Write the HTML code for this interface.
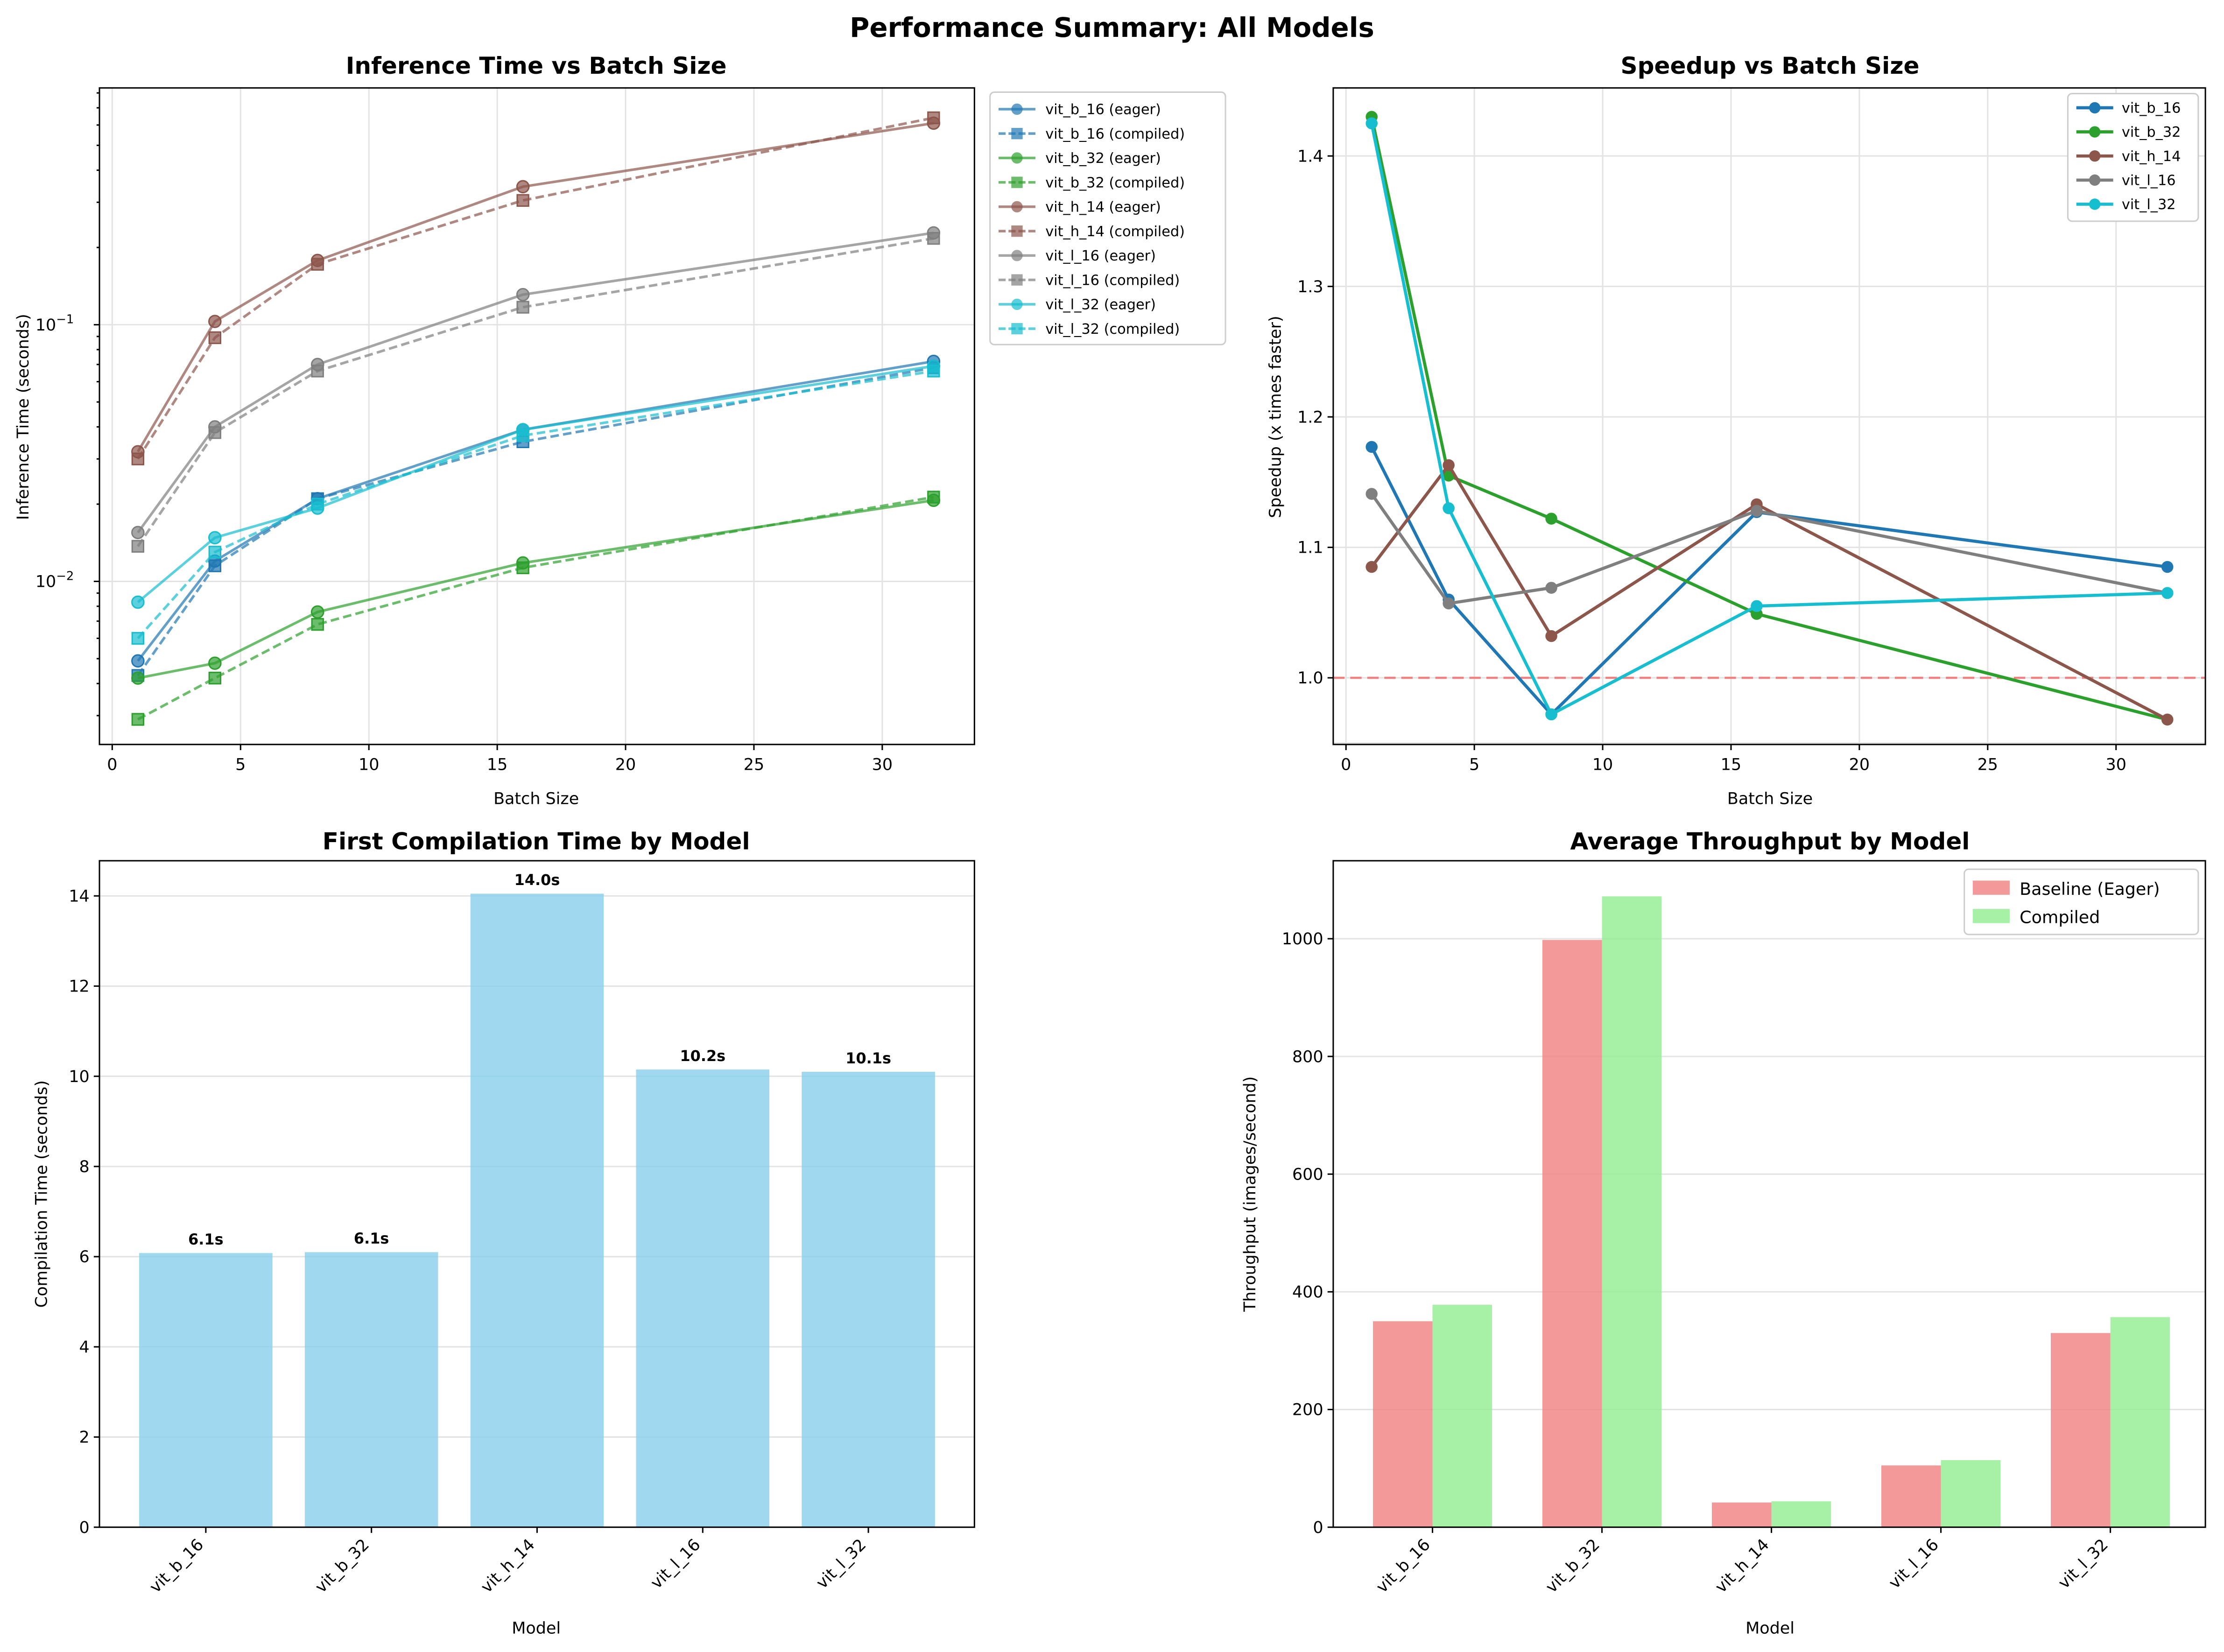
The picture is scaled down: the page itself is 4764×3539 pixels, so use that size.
<!DOCTYPE html>
<html><head><meta charset="utf-8"><style>
html,body{margin:0;padding:0;background:#fff}
svg{display:block}
text{font-family:"DejaVu Sans","Liberation Sans",sans-serif}
</style></head><body>
<svg id="fig" xmlns="http://www.w3.org/2000/svg" width="4764" height="3539" viewBox="0 0 1568 1165">
<rect width="1568" height="1165" fill="#fff"/>
<text x="784" y="26" text-anchor="middle" font-size="19" font-weight="bold">Performance Summary: All Models</text>
<g id="p1"></g>
<g id="p2"></g>
<g id="p3"></g>
<g id="p4"></g>
</svg>
<script>
const models=["vit_b_16","vit_b_32","vit_h_14","vit_l_16","vit_l_32"];
const colors=["#1f77b4","#2ca02c","#8c564b","#7f7f7f","#17becf"];
const batches=[1,4,8,16,32];
const eagerTime=[[0.0049,0.012,0.021,0.039,0.072],[0.0042,0.0048,0.0076,0.0118,0.0207],[0.032,0.103,0.178,0.345,0.61],[0.0155,0.040,0.070,0.131,0.228],[0.0083,0.0148,0.0193,0.039,0.069]];
const compiledTime=[[0.0043,0.0115,0.021,0.035,0.068],[0.0029,0.0042,0.0068,0.0113,0.0213],[0.030,0.089,0.172,0.305,0.64],[0.0137,0.038,0.066,0.117,0.217],[0.0060,0.013,0.020,0.037,0.066]];
const speedup=[[1.177,1.06,0.972,1.127,1.085],[1.43,1.155,1.122,1.049,0.968],[1.085,1.163,1.032,1.133,0.968],[1.141,1.057,1.069,1.128,1.065],[1.425,1.13,0.972,1.055,1.065]];
const compileTime=[6.08,6.1,14.05,10.15,10.1];
const compileLabels=["6.1s","6.1s","14.0s","10.2s","10.1s"];
const thrEager=[350,998,42,105,330];
const thrCompiled=[378,1072,44,114,357];
const xTicks=[0,5,10,15,20,25,30];
const speedTicks=[1.0,1.1,1.2,1.3,1.4];
const compTicks=[0,2,4,6,8,10,12,14];
const thrTicks=[0,200,400,600,800,1000];

const NS="http://www.w3.org/2000/svg";
const FS=11.5;
function el(parent,tag,attrs,txt){const e=document.createElementNS(NS,tag);for(const k in attrs)e.setAttribute(k,attrs[k]);if(txt!==undefined)e.textContent=txt;parent.appendChild(e);return e;}
function frame(g,L,T,R,B){const r=el(g,'rect',{x:L,y:T,width:R-L,height:B-T,fill:'none',stroke:'#000','stroke-width':1});}
function title(g,x,y,s){const t=el(g,'text',{x:x,y:y,'text-anchor':'middle','font-size':16.5,'font-weight':'bold'},s);}
function grid(g,x1,y1,x2,y2){el(g,'line',{x1,y1,x2,y2,stroke:'#e3e3e3','stroke-width':1});}

// Panel 1
(function(){
 const g=document.getElementById('p1');const L=70,T=62,R=687,B=525;
 const X=v=>79+v*18.1, Y=v=>410-181*(Math.log10(v)+2);
 xTicks.forEach(t=>grid(g,X(t),T,X(t),B));
 [0.01,0.1].forEach(t=>grid(g,L,Y(t),R,Y(t)));
 title(g,378,52,'Inference Time vs Batch Size');
 models.forEach((m,i)=>{
  [[eagerTime[i],false],[compiledTime[i],true]].forEach(([arr,dash])=>{
   const pts=batches.map((b,j)=>X(b)+','+Y(arr[j])).join(' ');
   const pl=el(g,'polyline',{points:pts,fill:'none',stroke:colors[i],'stroke-width':1.8,'stroke-opacity':0.7,'stroke-dasharray':dash?'6,3':'none'});
   
   
   batches.forEach((b,j)=>{
    const mk=dash?el(g,'rect',{x:X(b)-4,y:Y(arr[j])-4,width:8,height:8,fill:colors[i],'fill-opacity':0.7,stroke:colors[i]}):el(g,'circle',{cx:X(b),cy:Y(arr[j]),r:4.2,fill:colors[i],'fill-opacity':0.7,stroke:colors[i]});
    
    
   });
  });
 });
 frame(g,L,T,R,B);
 xTicks.forEach(t=>{el(g,'line',{x1:X(t),y1:B,x2:X(t),y2:B+4,stroke:'#000'});el(g,'text',{x:X(t),y:B+18,'text-anchor':'middle','font-size':FS},t);});
 [[0.01,'-2'],[0.1,'-1']].forEach(([t,e])=>{el(g,'line',{x1:L-4,y1:Y(t),x2:L,y2:Y(t),stroke:'#000'});const tx=el(g,'text',{x:L-18,y:Y(t)+4,'text-anchor':'end','font-size':FS},'10');el(tx,'tspan',{dy:-5,'font-size':8.5},'−'+e.slice(1));});
 for(let d=-3;d<=-1;d++)for(let k=2;k<=9;k++){const v=k*Math.pow(10,d);const y=Y(v);if(y>T&&y<B)el(g,'line',{x1:L-2,y1:y,x2:L,y2:y,stroke:'#000'});}
 el(g,'text',{x:378,y:567,'text-anchor':'middle','font-size':FS},'Batch Size');
 el(g,'text',{x:20,y:294,'text-anchor':'middle','font-size':FS,transform:'rotate(-90 20 294)'},'Inference Time (seconds)');
 const lg=el(g,'g',{});
 el(lg,'rect',{x:698,y:65,width:166,height:178,fill:'#fff',stroke:'#ccc',rx:3});
 let k=0;models.forEach((m,i)=>{['eager','compiled'].forEach(s=>{const y=77+k*17.2;
  el(lg,'line',{x1:704,y1:y,x2:730,y2:y,stroke:colors[i],'stroke-width':1.8,'stroke-opacity':0.7,'stroke-dasharray':s=='compiled'?'5,2':'none'});
  if(s=='eager')el(lg,'circle',{cx:717,cy:y,r:4,fill:colors[i],'fill-opacity':0.7});else el(lg,'rect',{x:713,y:y-4,width:8,height:8,fill:colors[i],'fill-opacity':0.7});
  const t=el(lg,'text',{x:737,y:y+3.5,'font-size':10},m+' ('+s+')');k++;});});
})();

// Panel 2
(function(){
 const g=document.getElementById('p2');const L=940,T=62,R=1555,B=525;
 const X=v=>949+v*18.1, Y=v=>478-(v-1)*920;
 xTicks.forEach(t=>grid(g,X(t),T,X(t),B));
 [0.95,1.0,1.1,1.2,1.3,1.4].forEach(t=>grid(g,L,Y(t),R,Y(t)));
 title(g,1248,52,'Speedup vs Batch Size');
 el(g,'line',{x1:L,y1:Y(1),x2:R,y2:Y(1),stroke:'#f08080','stroke-width':1.5,'stroke-dasharray':'8,4'});
 models.forEach((m,i)=>{
  const pl=el(g,'polyline',{points:batches.map((b,j)=>X(b)+','+Y(speedup[i][j])).join(' '),fill:'none',stroke:colors[i],'stroke-width':2.2});
  
  batches.forEach((b,j)=>{const c=el(g,'circle',{cx:X(b),cy:Y(speedup[i][j]),r:4.2,fill:colors[i]});});
 });
 frame(g,L,T,R,B);
 xTicks.forEach(t=>{el(g,'line',{x1:X(t),y1:B,x2:X(t),y2:B+4,stroke:'#000'});el(g,'text',{x:X(t),y:B+18,'text-anchor':'middle','font-size':FS},t);});
 speedTicks.forEach(t=>{el(g,'line',{x1:L-4,y1:Y(t),x2:L,y2:Y(t),stroke:'#000'});el(g,'text',{x:L-7,y:Y(t)+4,'text-anchor':'end','font-size':FS},t.toFixed(1));});
 el(g,'text',{x:1248,y:567,'text-anchor':'middle','font-size':FS},'Batch Size');
 el(g,'text',{x:903,y:294,'text-anchor':'middle','font-size':FS,transform:'rotate(-90 903 294)'},'Speedup (x times faster)');
 const lg=el(g,'g',{});
 el(lg,'rect',{x:1458,y:66,width:92,height:90,fill:'#fff',stroke:'#ccc',rx:3});
 models.forEach((m,i)=>{const y=76+i*17;el(lg,'line',{x1:1464,y1:y,x2:1490,y2:y,stroke:colors[i],'stroke-width':2.2});el(lg,'circle',{cx:1477,cy:y,r:4,fill:colors[i]});const t=el(lg,'text',{x:1496,y:y+3.5,'font-size':10},m);});
})();

// Panel 3
(function(){
 const g=document.getElementById('p3');const L=70,T=607,R=687,B=1077;
 const Y=v=>B-v*31.8, XC=i=>145+i*116.8;
 compTicks.forEach(t=>grid(g,L,Y(t),R,Y(t)));
 title(g,378,599,'First Compilation Time by Model');
 models.forEach((m,i)=>{
  const r=el(g,'rect',{x:XC(i)-47,y:Y(compileTime[i]),width:94,height:compileTime[i]*31.8,fill:'#87ceeb','fill-opacity':0.8});
  
  el(g,'text',{x:XC(i),y:Y(compileTime[i])-6,'text-anchor':'middle','font-size':10.5,'font-weight':'bold'},compileLabels[i]);
  el(g,'line',{x1:XC(i),y1:B,x2:XC(i),y2:B+4,stroke:'#000'});
  el(g,'text',{x:XC(i)-1,y:B+13,'text-anchor':'end','font-size':FS,transform:`rotate(-45 ${XC(i)-1} ${B+13})`},m);
 });
 frame(g,L,T,R,B);
 compTicks.forEach(t=>{el(g,'line',{x1:L-4,y1:Y(t),x2:L,y2:Y(t),stroke:'#000'});el(g,'text',{x:L-7,y:Y(t)+4,'text-anchor':'end','font-size':FS},t);});
 el(g,'text',{x:378,y:1152,'text-anchor':'middle','font-size':FS},'Model');
 el(g,'text',{x:33,y:842,'text-anchor':'middle','font-size':FS,transform:'rotate(-90 33 842)'},'Compilation Time (seconds)');
})();

// Panel 4
(function(){
 const g=document.getElementById('p4');const L=940,T=607,R=1555,B=1077;
 const Y=v=>B-v*0.415, XC=i=>1010+i*119.5;
 thrTicks.forEach(t=>grid(g,L,Y(t),R,Y(t)));
 title(g,1248,599,'Average Throughput by Model');
 models.forEach((m,i)=>{
  const a=el(g,'rect',{x:XC(i)-42,y:Y(thrEager[i]),width:42,height:thrEager[i]*0.415,fill:'#f08080','fill-opacity':0.8});
  
  const b=el(g,'rect',{x:XC(i),y:Y(thrCompiled[i]),width:42,height:thrCompiled[i]*0.415,fill:'#90ee90','fill-opacity':0.8});
  
  el(g,'line',{x1:XC(i),y1:B,x2:XC(i),y2:B+4,stroke:'#000'});
  el(g,'text',{x:XC(i)-1,y:B+13,'text-anchor':'end','font-size':FS,transform:`rotate(-45 ${XC(i)-1} ${B+13})`},m);
 });
 frame(g,L,T,R,B);
 thrTicks.forEach(t=>{el(g,'line',{x1:L-4,y1:Y(t),x2:L,y2:Y(t),stroke:'#000'});el(g,'text',{x:L-7,y:Y(t)+4,'text-anchor':'end','font-size':FS},t);});
 el(g,'text',{x:1248,y:1152,'text-anchor':'middle','font-size':FS},'Model');
 el(g,'text',{x:885,y:842,'text-anchor':'middle','font-size':FS,transform:'rotate(-90 885 842)'},'Throughput (images/second)');
 const lg=el(g,'g',{});
 el(lg,'rect',{x:1385,y:613,width:165,height:46,fill:'#fff',stroke:'#ccc',rx:3});
 el(lg,'rect',{x:1391,y:621,width:26,height:10,fill:'#f08080','fill-opacity':0.8});
 el(lg,'text',{x:1424,y:631,'font-size':12},'Baseline (Eager)');
 el(lg,'rect',{x:1391,y:641,width:26,height:10,fill:'#90ee90','fill-opacity':0.8});
 el(lg,'text',{x:1424,y:651,'font-size':12},'Compiled');
})();
</script>
</body></html>
